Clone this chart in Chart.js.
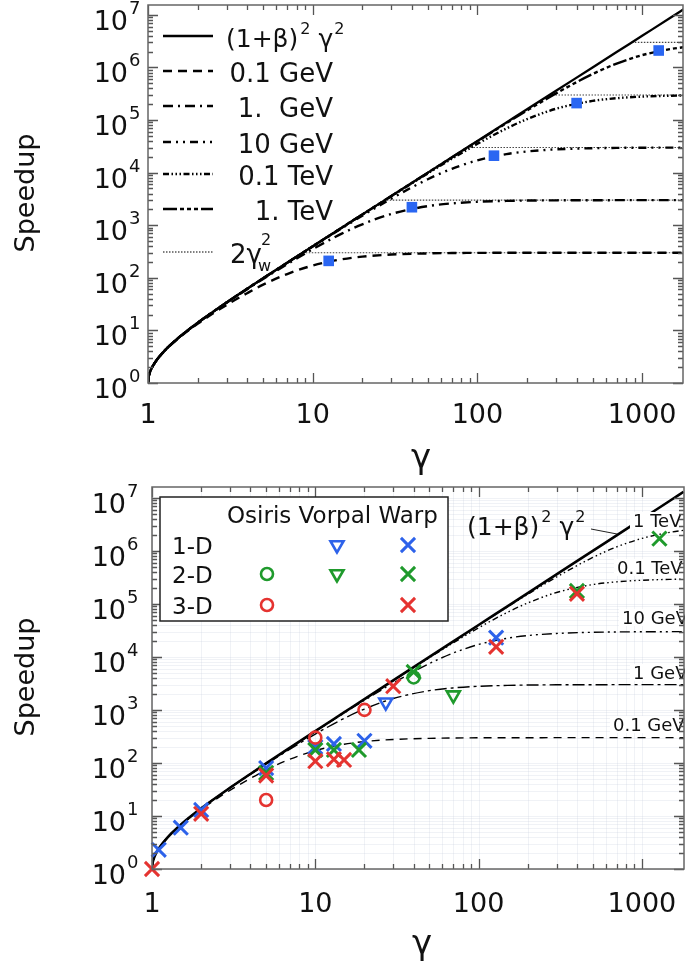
<!DOCTYPE html>
<html>
<head>
<meta charset="utf-8">
<script src="https://cdn.jsdelivr.net/npm/chart.js@4.4.1/dist/chart.umd.min.js"></script>
<style>
  body { margin: 0; background: #fff; width: 685px; height: 970px; overflow: hidden; position: relative; }
  canvas { position: absolute; left: 0; }
  #topChart { top: 0; }
  #botChart { top: 470px; }
</style>
</head>
<body>
<canvas id="topChart" width="685" height="485"></canvas>
<canvas id="botChart" width="685" height="500"></canvas>
<script>
// values
const gammaGrid      = [1, 1.01, 1.02, 1.05, 1.1, 1.25, 1.5, 2, 3, 4, 5, 7, 10, 15, 20, 30, 50, 70, 100, 150, 200, 300, 500, 700, 1000, 1500, 1800];
const speedupLimit   = [1, 1.33, 1.49, 1.88, 2.43, 4.0, 6.85, 13.9, 34, 62, 98, 194, 398, 898, 1600, 3600, 10000, 19600, 40000, 90000, 160000, 360000, 1.0e6, 1.96e6, 4.0e6, 9.0e6, 1.3e7];
const speedup01GeV   = [1, 1.33, 1.48, 1.87, 2.41, 3.95, 6.7, 13.3, 30.5, 51, 74, 118, 171, 225, 253, 277, 291, 296, 298, 299, 299, 300, 300, 300, 300, 300, 300];
const speedup1GeV    = [1, 1.33, 1.49, 1.88, 2.43, 4.0, 6.83, 13.9, 33.6, 60.7, 95, 182, 351, 691, 1040, 1640, 2310, 2600, 2790, 2900, 2945, 2975, 2990, 2995, 2998, 2999, 3000];
const speedup10GeV   = [1, 1.33, 1.49, 1.88, 2.43, 4.0, 6.85, 13.9, 34, 61.9, 97.7, 193, 393, 872, 1520, 3210, 7500, 11850, 17140, 22500, 25260, 27700, 29130, 29550, 29780, 29900, 29930];
const speedup01TeV   = [1, 1.33, 1.49, 1.88, 2.43, 4.0, 6.85, 13.9, 34, 62, 98, 194, 397, 895, 1590, 3555, 9680, 18400, 35300, 69200, 104000, 164000, 231000, 260000, 279000, 290000, 293000];
const speedup1TeV    = [1, 1.33, 1.49, 1.88, 2.43, 4.0, 6.85, 13.9, 34, 62, 98, 194, 398, 898, 1599, 3594, 9965, 19470, 39470, 87400, 152000, 321000, 750000, 1185000, 1714000, 2250000, 2436000];

const energyLegend = ['0.1 GeV', '1.  GeV', '10 GeV', '0.1 TeV', '1. TeV'];
const energyTags   = ['0.1 GeV', '1 GeV', '10 GeV', '0.1 TeV', '1 TeV'];
const plateauLevels = [300, 3000, 30000, 300000, 3000000];
const plateauStart  = [8.7, 27, 87, 274, 866];
const gammaW        = [12.5, 40, 126, 400, 1260];
const speedupAtGammaW = [210, 2200, 21000, 210000, 2100000];

// simulation results (bottom panel)
const osiris2DGamma = [40];               const osiris2DSpeedup = [4100];
const osiris3DGamma = [5, 10, 20];        const osiris3DSpeedup = [20, 300, 1000];
const vorpal1DGamma = [27];               const vorpal1DSpeedup = [1400];
const vorpal2DGamma = [70];               const vorpal2DSpeedup = [1900];
const warp1DGamma = [1.1, 1.5, 2, 5, 10, 13, 20, 128];
const warp1DSpeedup = [2.3, 6, 13, 80, 200, 228, 262, 23000];
const warp2DGamma = [5, 10, 13, 18.5, 40, 400, 1280];
const warp2DSpeedup = [65, 176, 176, 176, 5200, 175000, 1.7e6];
const warp3DGamma = [1, 2, 5, 10, 13, 15, 30, 128, 400];
const warp3DSpeedup = [1, 11, 58, 108, 117, 114, 2800, 15500, 155000];

// axes
const xMajor = [1, 10, 100, 1000];
const yMajorExp = [0, 1, 2, 3, 4, 5, 6, 7];
const minorSteps = [1, 2, 3, 4, 5, 6, 7, 8, 9];

const FONT = '"DejaVu Sans", sans-serif';
const BLUE = '#2d62ea', GREEN = '#1f9a2c', RED = '#e53330', SQUARE = '#2a66f2';

const topDash = [[9, 6], [10, 5, 2, 5], [8, 5, 2, 5, 2, 5], [6, 2.5, 1.5, 2.5, 1.5, 2.5, 1.5, 2.5], [14, 3, 4, 3, 4, 3, 4, 3]];
const botDash = [[8, 6], [12, 4, 3, 4], [10, 4, 2, 4, 2, 4], [6, 3, 1.5, 3, 1.5, 3, 1.5, 3], [6, 3, 1.5, 3, 1.5, 3, 1.5, 3]];
const energyCurves = [speedup01GeV, speedup1GeV, speedup10GeV, speedup01TeV, speedup1TeV];

// where the curve tags sit in the bottom panel (canvas px)
const tagLeft = [613, 633, 622, 617, 633];
const tagBase = [261, 209, 154, 104, 57];

function pts(xs, ys) {
    return xs.map((x, i) => ({ x: x, y: ys[i] }));
}

function curve(ys, dash, width, order) {
    return {
        data: pts(gammaGrid, ys), showLine: true, borderColor: '#000', borderWidth: width,
        borderDash: dash, pointRadius: 0, cubicInterpolationMode: 'monotone', order: order
    };
}

function marks(xs, ys, color, style, radius, rotation, order) {
    return {
        data: pts(xs, ys), showLine: false, pointStyle: style, pointRadius: radius, pointRotation: rotation || 0,
        pointBorderColor: color, pointBackgroundColor: 'rgba(0,0,0,0)', pointBorderWidth: style === 'crossRot' ? 3 : 2.6,
        clip: false, order: order
    };
}

function richText(ctx, x, y, parts) {
    // parts: [text, size, dy, dx]
    let cx = x;
    parts.forEach(p => {
        ctx.font = p[1] + 'px ' + FONT;
        cx += (p[3] || 0);
        ctx.fillText(p[0], cx, y + (p[2] || 0));
        cx += ctx.measureText(p[0]).width;
    });
    return cx;
}

function drawGrid(chart) {
    const { ctx, chartArea: a, scales: { x, y } } = chart;
    ctx.save();
    ctx.strokeStyle = 'rgba(185,195,212,0.22)';
    ctx.lineWidth = 1;
    ctx.beginPath();
    xMajor.forEach(v0 => minorSteps.forEach(m => {
        const v = v0 * m;
        if (v > x.max) return;
        const px = Math.round(x.getPixelForValue(v)) + 0.5;
        ctx.moveTo(px, a.top); ctx.lineTo(px, a.bottom);
    }));
    yMajorExp.forEach(e => minorSteps.forEach(m => {
        const v = m * Math.pow(10, e);
        if (v > y.max) return;
        const py = Math.round(y.getPixelForValue(v)) + 0.5;
        ctx.moveTo(a.left, py); ctx.lineTo(a.right, py);
    }));
    ctx.stroke();
    ctx.restore();
}

function drawFrame(chart, o) {
    const { ctx, chartArea: a, scales: { x, y } } = chart;
    ctx.save();
    ctx.setLineDash([]);
    ctx.strokeStyle = '#555';
    ctx.lineWidth = 1.3;
    ctx.beginPath();
    xMajor.forEach(v0 => minorSteps.forEach(m => {
        const v = v0 * m;
        if (v > x.max) return;
        const px = Math.round(x.getPixelForValue(v)) + 0.5;
        const len = m === 1 ? 10 : 5;
        ctx.moveTo(px, a.bottom); ctx.lineTo(px, a.bottom - len);
        ctx.moveTo(px, a.top); ctx.lineTo(px, a.top + len);
    }));
    yMajorExp.forEach(e => minorSteps.forEach(m => {
        const v = m * Math.pow(10, e);
        if (v > y.max) return;
        const py = Math.round(y.getPixelForValue(v)) + 0.5;
        const len = m === 1 ? 10 : 5;
        ctx.moveTo(a.left, py); ctx.lineTo(a.left + len, py);
        ctx.moveTo(a.right, py); ctx.lineTo(a.right - len, py);
    }));
    ctx.stroke();
    ctx.strokeStyle = '#666';
    ctx.lineWidth = 1.5;
    ctx.strokeRect(a.left, a.top, a.right - a.left, a.bottom - a.top);

    ctx.fillStyle = '#111';
    ctx.textBaseline = 'alphabetic';
    ctx.font = '27px ' + FONT;
    ctx.textAlign = 'center';
    xMajor.forEach(v => {
        ctx.fillText(String(v), x.getPixelForValue(v), a.bottom + o.xLabelDy);
    });
    yMajorExp.forEach(e => {
        const py = y.getPixelForValue(Math.pow(10, e));
        ctx.textAlign = 'right';
        ctx.font = '27px ' + FONT;
        ctx.fillText('10', a.left - o.yLabelGap, py + 15);
        ctx.textAlign = 'left';
        ctx.font = '18px ' + FONT;
        ctx.fillText(String(e), a.left - o.yLabelGap + 1, py - 1);
    });

    // axis titles
    ctx.textAlign = 'center';
    ctx.font = '34px ' + FONT;
    ctx.fillText('γ', o.gammaX, o.gammaY);
    ctx.save();
    ctx.translate(o.titleX, o.titleY);
    ctx.rotate(-Math.PI / 2);
    ctx.textBaseline = 'middle';
    ctx.font = '27px ' + FONT;
    ctx.fillText('Speedup', 0, 0);
    ctx.restore();
    ctx.restore();
}

const topLegendPlugin = {
    id: 'topDecor',
    afterDraw(chart) {
        drawFrame(chart, { xLabelDy: 40, yLabelGap: 20, gammaX: 421, gammaY: 468, titleX: 27, titleY: 193 });
        const ctx = chart.ctx;
        const rows = [36, 71, 106, 142, 174, 209, 252];
        ctx.save();
        ctx.strokeStyle = '#000';
        ctx.fillStyle = '#111';
        ctx.textBaseline = 'alphabetic';
        const styles = [[[], 2.3]].concat(topDash.map(d => [d, 2.4])).concat([[[1.5, 1.5], 1.2]]);
        styles.forEach((s, i) => {
            ctx.setLineDash(s[0]);
            ctx.lineWidth = s[1];
            ctx.beginPath();
            ctx.moveTo(163, rows[i]); ctx.lineTo(213, rows[i]);
            ctx.stroke();
        });
        ctx.setLineDash([]);
        richText(ctx, 226, rows[0] + 11, [['(1+β)', 25], ['2', 16, -13, 2], [' γ', 25], ['2', 16, -13, 1]]);
        ctx.font = '26px ' + FONT;
        ctx.textAlign = 'right';
        energyLegend.forEach((t, i) => ctx.fillText(t, 333, rows[i + 1] + 11));
        ctx.textAlign = 'left';
        const gx = richText(ctx, 230, rows[6] + 11, [['2γ', 26]]);
        ctx.font = '16px ' + FONT;
        ctx.fillText('w', gx - 4, rows[6] + 19);
        ctx.fillText('2', gx - 1, rows[6] - 7);
        ctx.restore();
    }
};

const botDecorPlugin = {
    id: 'botDecor',
    beforeDatasetsDraw(chart) {
        drawGrid(chart);
    },
    afterDatasetDraw(chart, args) {
        if (args.index !== 0) return;
        // curve tags with a white backing, drawn right after the limit curve
        const ctx = chart.ctx;
        ctx.save();
        ctx.font = '18px ' + FONT;
        ctx.textBaseline = 'alphabetic';
        ctx.textAlign = 'left';
        energyTags.forEach((t, k) => {
            const w = ctx.measureText(t).width;
            ctx.fillStyle = '#fff';
            ctx.fillRect(tagLeft[k] - 3, tagBase[k] - 15, w + 6, 17);
            ctx.fillStyle = '#111';
            ctx.fillText(t, tagLeft[k], tagBase[k]);
        });
        ctx.restore();
    },
    afterDraw(chart) {
        drawFrame(chart, { xLabelDy: 43, yLabelGap: 26, gammaX: 422, gammaY: 484, titleX: 27, titleY: 207 });
        const ctx = chart.ctx;
        ctx.save();
        ctx.fillStyle = '#111';
        ctx.textBaseline = 'alphabetic';
        ctx.textAlign = 'left';
        // limit label with leader line
        richText(ctx, 467, 65, [['(1+β)', 25], ['2', 16, -13, 2], [' γ', 25], ['2', 16, -13, 1]]);
        ctx.strokeStyle = '#222';
        ctx.lineWidth = 1;
        ctx.beginPath();
        ctx.moveTo(591, 59); ctx.lineTo(617, 64);
        ctx.stroke();

        // legend box
        ctx.fillStyle = '#fff';
        ctx.fillRect(160, 27, 288, 124);
        ctx.strokeStyle = '#222';
        ctx.lineWidth = 1.5;
        ctx.strokeRect(160, 27, 288, 124);
        ctx.fillStyle = '#111';
        ctx.font = '23px ' + FONT;
        ctx.fillText('Osiris Vorpal Warp', 227, 53);
        const rowY = [75, 104, 135];
        ['1-D', '2-D', '3-D'].forEach((t, i) => ctx.fillText(t, 172, rowY[i] + 9));
        const colors = [BLUE, GREEN, RED];
        const hasOsiris = [false, true, true], hasVorpal = [true, true, false];
        const H = Chart.helpers;
        colors.forEach((c, i) => {
            ctx.strokeStyle = c;
            ctx.fillStyle = 'rgba(0,0,0,0)';
            ctx.lineWidth = 2.6;
            if (hasOsiris[i]) H.drawPoint(ctx, { pointStyle: 'circle', radius: 6, rotation: 0, borderWidth: 2.6 }, 267, rowY[i]);
            if (hasVorpal[i]) H.drawPoint(ctx, { pointStyle: 'triangle', radius: 7.5, rotation: 180, borderWidth: 2.6 }, 337, rowY[i]);
            ctx.lineWidth = 3;
            H.drawPoint(ctx, { pointStyle: 'crossRot', radius: 10, rotation: 0, borderWidth: 3 }, 408, rowY[i]);
        });
        ctx.restore();
    }
};

const xMaxTop = 1770, yMaxTop = 1.54e7;
const xMaxBot = 1810, yMaxBot = 1.6e7;

function logScales(xmax, ymax) {
    return {
        x: { type: 'logarithmic', min: 1, max: xmax, display: false },
        y: { type: 'logarithmic', min: 1, max: ymax, display: false }
    };
}

// top panel
const topDatasets = [curve(speedupLimit, [], 2.3, 5)];
energyCurves.forEach((c, i) => topDatasets.push(curve(c, topDash[i], 2.4, 10 + i)));
plateauLevels.forEach((lvl, i) => topDatasets.push({
    data: pts([plateauStart[i], xMaxTop], [lvl, lvl]), showLine: true, borderColor: '#444',
    borderWidth: 1.1, borderDash: [1.5, 1.5], pointRadius: 0, order: 20
}));
topDatasets.push({
    data: pts(gammaW, speedupAtGammaW), showLine: false, pointStyle: 'rect', pointRadius: 7.5,
    pointBackgroundColor: SQUARE, pointBorderWidth: 0, order: 1
});

new Chart(document.getElementById('topChart').getContext('2d'), {
    type: 'scatter',
    data: { datasets: topDatasets },
    options: {
        responsive: false, animation: false, events: [],
        layout: { autoPadding: false, padding: { left: 148, right: 2, top: 5, bottom: 102 } },
        scales: logScales(xMaxTop, yMaxTop),
        plugins: { legend: { display: false }, tooltip: { enabled: false } }
    },
    plugins: [topLegendPlugin]
});

// bottom panel
const botDatasets = [curve(speedupLimit, [], 2.6, 5)];
energyCurves.forEach((c, i) => botDatasets.push(curve(c, botDash[i], 1.4, 10 + i)));
botDatasets.push(marks(warp1DGamma, warp1DSpeedup, BLUE, 'crossRot', 10, 0, 4));
botDatasets.push(marks(vorpal1DGamma, vorpal1DSpeedup, BLUE, 'triangle', 7.5, 180, 4));
botDatasets.push(marks(warp2DGamma, warp2DSpeedup, GREEN, 'crossRot', 10, 0, 3));
botDatasets.push(marks(vorpal2DGamma, vorpal2DSpeedup, GREEN, 'triangle', 7.5, 180, 3));
botDatasets.push(marks(osiris2DGamma, osiris2DSpeedup, GREEN, 'circle', 6, 0, 3));
botDatasets.push(marks(warp3DGamma, warp3DSpeedup, RED, 'crossRot', 10, 0, 2));
botDatasets.push(marks(osiris3DGamma, osiris3DSpeedup, RED, 'circle', 6, 0, 2));

new Chart(document.getElementById('botChart').getContext('2d'), {
    type: 'scatter',
    data: { datasets: botDatasets },
    options: {
        responsive: false, animation: false, events: [],
        layout: { autoPadding: false, padding: { left: 152, right: 1, top: 17, bottom: 101 } },
        scales: logScales(xMaxBot, yMaxBot),
        plugins: { legend: { display: false }, tooltip: { enabled: false } }
    },
    plugins: [botDecorPlugin]
});
</script>
</body>
</html>
